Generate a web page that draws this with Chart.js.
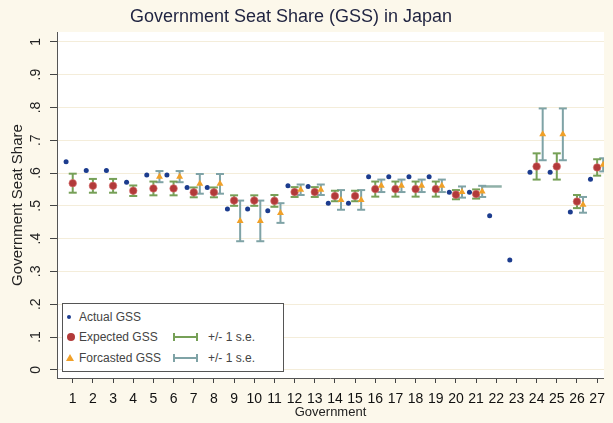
<!DOCTYPE html>
<html>
<head>
<meta charset="utf-8">
<script src="https://cdn.jsdelivr.net/npm/chart.js@4.4.1/dist/chart.umd.min.js"></script>
<style>
  html, body { margin: 0; padding: 0; background: #FCF8EB; overflow: hidden; }
  #wrap { position: relative; width: 613px; height: 423px; }
  #legend { position: absolute; left: 62px; top: 303px; width: 220px; height: 67px;
    border: 1px solid #555; background: #fff;
    font: 12px "Liberation Sans", Arial, sans-serif; color: #444; }
  .row { position: absolute; left: 0; height: 14px; line-height: 14px; width: 100%; }
  .row span { position: absolute; white-space: nowrap; }
  .dot { position: absolute; left: 4px; top: 5px; width: 4px; height: 4px; border-radius: 50%; background: #1C3C8E; }
  .diam { position: absolute; left: 4px; top: 3px; width: 8px; height: 8px; border-radius: 50%; background: #B23A3A; }
  .tri { position: absolute; left: 3px; top: 3px; width: 0; height: 0;
    border-left: 4px solid transparent; border-right: 4px solid transparent; border-bottom: 7px solid #F0A028; }
  .cap { position: absolute; left: 110px; top: 3px; width: 21px; height: 8px; }
  .cap i { position: absolute; left: 0; top: 3px; width: 100%; height: 2px; }
</style>
</head>
<body>
<div id="wrap">
  <canvas id="gss" width="613" height="423"></canvas>
  <div id="legend">
    <div class="row" style="top:6px"><div class="dot"></div><span style="left:16px">Actual GSS</span></div>
    <div class="row" style="top:26px"><div class="diam"></div><span style="left:16px">Expected GSS</span>
      <div class="cap" style="border-left:2px solid #76A057;border-right:2px solid #76A057"><i style="background:#76A057"></i></div>
      <span style="left:145px">+/- 1 s.e.</span></div>
    <div class="row" style="top:47px"><div class="tri"></div><span style="left:16px">Forcasted GSS</span>
      <div class="cap" style="border-left:2px solid #7FA3A6;border-right:2px solid #7FA3A6"><i style="background:#7FA3A6"></i></div>
      <span style="left:145px">+/- 1 s.e.</span></div>
  </div>
</div>
<script>
// values
var govts = [1, 2, 3, 4, 5, 6, 7, 8, 9, 10, 11, 12, 13, 14, 15, 16, 17, 18, 19, 20, 21, 22, 23, 24, 25, 26, 27];
var actualGSS = [0.634, 0.608, 0.608, 0.572, 0.594, 0.594, 0.556, 0.556, 0.490, 0.490, 0.485, 0.561, 0.559, 0.508,
                 0.508, 0.589, 0.589, 0.589, 0.589, 0.541, 0.541, 0.470, 0.335, 0.602, 0.602, 0.481, 0.581];
var expectedGSS = [0.569, 0.561, 0.561, 0.546, 0.553, 0.553, 0.541, 0.541, 0.516, 0.516, 0.515, 0.542, 0.542, 0.530,
                   0.530, 0.551, 0.551, 0.551, 0.551, 0.534, 0.536, null, null, 0.620, 0.620, 0.513, 0.617];
var expectedSE = [0.029, 0.021, 0.021, 0.016, 0.021, 0.021, 0.015, 0.015, 0.016, 0.016, 0.018, 0.015, 0.015, 0.016,
                  0.016, 0.023, 0.023, 0.023, 0.023, 0.014, 0.014, null, null, 0.040, 0.040, 0.020, 0.025];
var forecastGSS = [null, null, null, null, 0.589, 0.589, 0.567, 0.567, 0.454, 0.454, 0.478, 0.549, 0.549, 0.518,
                   0.518, 0.561, 0.561, 0.561, 0.561, 0.542, 0.544, null, null, 0.718, 0.718, 0.503, 0.625];
var forecastSE = [null, null, null, null, 0.017, 0.017, 0.030, 0.030, 0.062, 0.062, 0.030, 0.016, 0.016, 0.030,
                  0.030, 0.019, 0.019, 0.019, 0.019, 0.017, 0.017, null, null, 0.079, 0.079, 0.024, 0.020];
// stray flat bar drawn near government 22
var strayX = [21.25, 22.27];
var strayY = [0.559, 0.559];
var yTickVals = [0, 0.1, 0.2, 0.3, 0.4, 0.5, 0.6, 0.7, 0.8, 0.9, 1];
var yTickLabels = ['0', '.1', '.2', '.3', '.4', '.5', '.6', '.7', '.8', '.9', '1'];

var FONT = '"Liberation Sans", Arial, sans-serif';
var actualShift = -0.33;
var forecastShift = 0.3;

function points(values, shift) {
    var out = [];
    govts.forEach(function (g, i) {
        if (values[i] != null) out.push({ x: g + shift, y: values[i] });
    });
    return out;
}

function bars(center, se, shift) {
    var out = [];
    govts.forEach(function (g, i) {
        if (center[i] == null) return;
        out.push({ x: g + shift, y: center[i] - se[i] });
        out.push({ x: g + shift, y: center[i] + se[i] });
        out.push({ x: g + shift, y: null });
    });
    return out;
}

var paint = {
    id: 'paint',
    beforeDraw: function (chart) {
        var a = chart.chartArea, ctx = chart.ctx;
        ctx.save();
        ctx.fillStyle = '#ffffff';
        ctx.fillRect(a.left, a.top, a.right - a.left, a.bottom - a.top);
        ctx.restore();
    },
    afterDraw: function (chart) {
        var ctx = chart.ctx, ys = chart.scales.y;
        ctx.save();
        ctx.fillStyle = '#1F2340';
        ctx.font = '18px ' + FONT;
        ctx.textAlign = 'center';
        ctx.textBaseline = 'middle';
        ctx.fillText('Government Seat Share (GSS) in Japan', 291, 17);
        ctx.fillStyle = '#222';
        ctx.font = '14px ' + FONT;
        yTickVals.forEach(function (v, i) {
            ctx.save();
            ctx.translate(36, ys.getPixelForValue(v));
            ctx.rotate(-Math.PI / 2);
            ctx.fillText(yTickLabels[i], 0, 0);
            ctx.restore();
        });
        ctx.restore();
    }
};

var ctx = document.getElementById('gss').getContext('2d');
new Chart(ctx, {
    type: 'scatter',
    data: {
        datasets: [
            {
                label: 'Actual GSS',
                data: points(actualGSS, actualShift),
                pointStyle: 'circle',
                pointRadius: 2.5,
                backgroundColor: '#1C3C8E',
                borderColor: '#1C3C8E',
                borderWidth: 0,
                order: 2
            },
            {
                label: 'Expected GSS',
                data: points(expectedGSS, 0),
                pointStyle: 'circle',
                pointRadius: 3.8,
                backgroundColor: '#B23A3A',
                borderColor: 'rgba(220,120,120,0.6)',
                borderWidth: 1,
                order: 1
            },
            {
                label: 'Forcasted GSS',
                data: points(forecastGSS, forecastShift),
                pointStyle: 'triangle',
                pointRadius: 4,
                backgroundColor: '#F0A028',
                borderColor: '#F0A028',
                borderWidth: 0,
                order: 0
            },
            {
                label: 'Expected +/- 1 s.e.',
                data: bars(expectedGSS, expectedSE, 0),
                showLine: true,
                spanGaps: false,
                borderColor: '#76A057',
                borderWidth: 2,
                pointStyle: 'line',
                pointRadius: 4,
                pointBorderWidth: 2,
                pointBorderColor: '#76A057',
                order: 4
            },
            {
                label: 'Forecast +/- 1 s.e.',
                data: bars(forecastGSS, forecastSE, forecastShift),
                showLine: true,
                spanGaps: false,
                borderColor: '#7FA3A6',
                borderWidth: 2,
                pointStyle: 'line',
                pointRadius: 4,
                pointBorderWidth: 2,
                pointBorderColor: '#7FA3A6',
                order: 5
            },
            {
                label: 'stray',
                data: strayX.map(function (x, i) { return { x: x, y: strayY[i] }; }),
                showLine: true,
                borderColor: '#8FB0A8',
                borderWidth: 2.5,
                pointRadius: 0,
                order: 6
            }
        ]
    },
    options: {
        responsive: false,
        animation: false,
        events: [],
        layout: { padding: { top: 32, left: 0, right: 0, bottom: 0 } },
        scales: {
            x: {
                type: 'linear',
                min: 0.22,
                max: 27.34,
                afterBuildTicks: function (s) { s.ticks = govts.map(function (v) { return { value: v }; }); },
                afterFit: function (s) { s.height = 45; },
                ticks: {
                    autoSkip: false,
                    maxRotation: 0,
                    padding: 8,
                    color: '#111',
                    font: { family: FONT, size: 14 },
                    callback: function (v) { return String(v); }
                },
                grid: { drawOnChartArea: false, tickLength: 5, tickColor: '#444' },
                border: { color: '#555' },
                title: {
                    display: true,
                    text: 'Government',
                    color: '#222',
                    font: { family: FONT, size: 13 },
                    padding: { top: 0, bottom: 3 }
                }
            },
            y: {
                min: -0.025,
                max: 1.03,
                afterBuildTicks: function (s) { s.ticks = yTickVals.map(function (v) { return { value: v }; }); },
                afterFit: function (s) { s.width = 57; },
                ticks: { display: false },
                grid: { color: '#F4EDDA', tickLength: 7, tickColor: '#444' },
                border: { color: '#555' },
                title: {
                    display: true,
                    text: 'Government Seat Share',
                    color: '#222',
                    font: { family: FONT, size: 15 },
                    padding: { top: 9, bottom: 0 }
                }
            }
        },
        plugins: {
            legend: { display: false },
            title: { display: false },
            tooltip: { enabled: false }
        }
    },
    plugins: [paint]
});
</script>
</body>
</html>
